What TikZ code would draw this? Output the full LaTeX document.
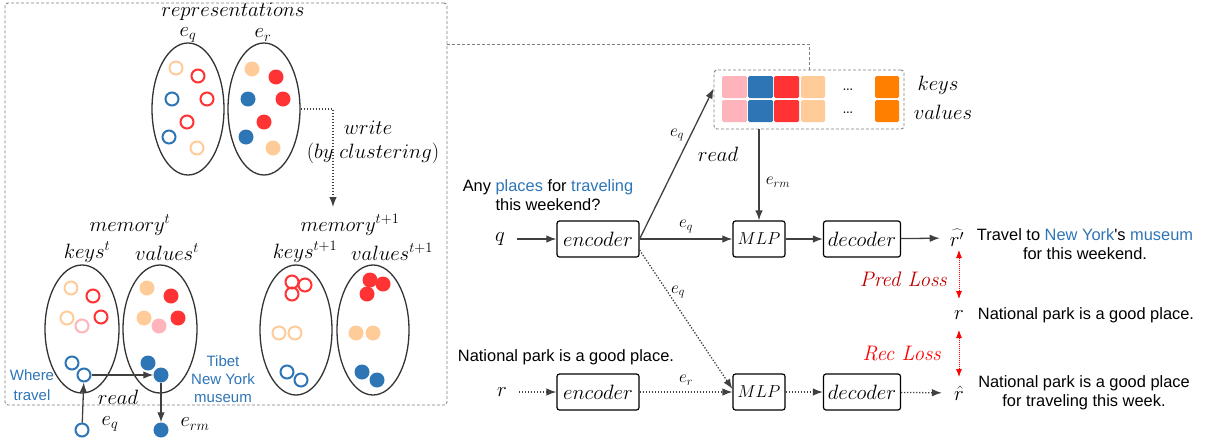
\documentclass[tikz,border=0pt]{standalone}
\usepackage{fontspec}
\newfontfamily\arialfont{Liberation Sans}
\usetikzlibrary{arrows.meta, shapes.geometric, positioning, calc}

\definecolor{myblue}{HTML}{2E75B6}
\definecolor{myred}{HTML}{FF3333}
\definecolor{mypeach}{HTML}{FFCC99}
\definecolor{mypink}{HTML}{FFB3BA}
\definecolor{myorange}{HTML}{FF8000}
\definecolor{lossred}{HTML}{C00000}
\definecolor{arrgray}{HTML}{404040}

\tikzset{
  box/.style={draw=black, line width=1.2pt, rounded corners=2.5pt, minimum height=36pt, inner sep=0pt, font=\fontsize{20}{24}\selectfont},
  lbl/.style={inner sep=0pt, font=\fontsize{20}{24}\selectfont},
  small/.style={inner sep=0pt, font=\fontsize{17}{20}\selectfont},
  txt/.style={inner sep=0pt, align=center, font=\arialfont\fontsize{16.4}{19}\selectfont},
  bluetxt/.style={inner sep=0pt, align=center, text=myblue, font=\arialfont\fontsize{15}{18}\selectfont},
  arr/.style={draw=arrgray, line width=1.3pt, -{Latex[length=10pt,width=7.5pt]}},
  dotarr/.style={arr, dash pattern=on 1.3pt off 1.7pt},
  lossarr/.style={draw=red, line width=0.8pt, dash pattern=on 0.8pt off 1.2pt, {Latex[length=8pt,width=6pt]}-{Latex[length=8pt,width=6pt]}},
  grp/.style={draw=gray, line width=0.9pt, dash pattern=on 3pt off 2pt},
  set/.style={ellipse, draw=black!80, line width=1.3pt, inner sep=0pt},
  ring/.style={line width=2pt},
  dot/.style={circle, inner sep=0pt},
  loss/.style={inner sep=0pt, anchor=east, font=\fontsize{21}{24}\selectfont\itshape}
}

\begin{document}
\begin{tikzpicture}[x=1pt,y=-1pt]
  \useasboundingbox (0,0) rectangle (1210,445);

  % memory module, left part
  \node[grp, rounded corners=3pt, minimum width=442pt, minimum height=402pt] (membox) at (226,204) {};

  \node[lbl] (reprs) at (233,12) {$representations$};
  \node[lbl] (eqlbl) at (188,35) {$e_q$};
  \node[lbl] (erlbl) at (263,35) {$e_r$};
  \node[set, minimum width=72pt, minimum height=132pt] (eqset) at (188,109) {};
  \node[set, minimum width=72pt, minimum height=132pt] (erset) at (264,109) {};
  % query representations (open)
  \draw[mypeach, ring] (176,68) circle (6.5);
  \draw[myred, ring] (198,76) circle (6.5);
  \draw[myblue, ring] (172,99) circle (6.5);
  \draw[myred, ring] (207,99) circle (6.5);
  \draw[myred, ring] (187,122) circle (6.5);
  \draw[myblue, ring] (169,137) circle (6.5);
  \draw[mypeach, ring] (197,148) circle (6.5);
  % response representations (filled)
  \fill[mypeach] (252,69) circle (7.5);
  \fill[myred] (276,77) circle (7.5);
  \fill[myblue] (248,99) circle (7.5);
  \fill[myred] (283,99) circle (7.5);
  \fill[myred] (264,122) circle (7.5);
  \fill[myblue] (246,137) circle (7.5);
  \fill[mypeach] (273,148) circle (7.5);

  % write step
  \coordinate (wend) at (333,207);
  \draw[dotarr] (erset.east) -| (wend);
  \node[lbl] (wrlbl) at (368,128) {$write$};
  \node[lbl] (bylbl) at (373,153) {$(by\ clustering)$};

  % memory at t
  \node[lbl] (memt) at (130,225) {$memory^{t}$};
  \node[lbl] (keyt) at (87,252) {$keys^{t}$};
  \node[lbl] (valt) at (167,252) {$values^{t}$};
  \node[set, minimum width=74pt, minimum height=128pt] (keyset) at (82,329) {};
  \node[set, minimum width=74pt, minimum height=128pt] (valset) at (160,329) {};
  \draw[mypeach, ring] (71,288) circle (6.5);
  \draw[myred, ring] (93,296) circle (6.5);
  \draw[mypeach, ring] (67,318) circle (6.5);
  \draw[mypink, ring] (82,326) circle (6.5);
  \draw[myred, ring] (101,317) circle (6.5);
  \draw[myblue, ring] (72,363) circle (6.5);
  \node[dot, draw=myblue, ring, minimum size=13pt] (kq) at (84,375) {};
  \fill[mypeach] (147,288) circle (7.5);
  \fill[myred] (171,296) circle (7.5);
  \fill[mypeach] (144,318) circle (7.5);
  \fill[mypink] (159,326) circle (7.5);
  \fill[myred] (178,318) circle (7.5);
  \fill[myblue] (148,363) circle (7.5);
  \node[dot, fill=myblue, minimum size=15pt] (vq) at (161,375) {};

  % read step
  \node[dot, draw=myblue, ring, minimum size=13pt] (eqd) at (82,430) {};
  \node[dot, fill=myblue, minimum size=15pt] (ermd) at (161,430) {};
  \draw[arr] (kq) -- (vq);
  \draw[arr] (eqd) -- (kq);
  \draw[arr] (vq) -- (ermd);
  \node[lbl] (rdlbl) at (118,397) {$read$};
  \node[lbl] (eqlbl2) at (110,424) {$e_q$};
  \node[lbl] (ermlbl) at (195,424) {$e_{rm}$};
  \node[bluetxt] (where) at (32,385) {Where\\[2pt]travel};
  \node[bluetxt] (tibet) at (223,379) {Tibet\\New York\\museum};

  % memory at t+1
  \node[lbl] (memt1) at (350,225) {$memory^{t+1}$};
  \node[lbl] (keyt1) at (305,252) {$keys^{t+1}$};
  \node[lbl] (valt1) at (392,252) {$values^{t+1}$};
  \node[set, minimum width=72pt, minimum height=130pt] (keyset1) at (296,330) {};
  \node[set, minimum width=72pt, minimum height=130pt] (valset1) at (373,330) {};
  \draw[myred, ring] (292,282) circle (6.5);
  \draw[myred, ring] (305,285) circle (6.5);
  \draw[myred, ring] (292,294) circle (6.5);
  \draw[mypeach, ring] (279,333) circle (6.5);
  \draw[mypeach, ring] (295,333) circle (6.5);
  \draw[myblue, ring] (287,372) circle (6.5);
  \draw[myblue, ring] (301,380) circle (6.5);
  \fill[myred] (370,280) circle (7.5);
  \fill[myred] (383,284) circle (7.5);
  \fill[myred] (367,294) circle (7.5);
  \fill[mypeach] (356,333) circle (7.5);
  \fill[mypeach] (373,333) circle (7.5);
  \fill[myblue] (362,372) circle (7.5);
  \fill[myblue] (377,380) circle (7.5);

  % key-value store
  \node[grp, rounded corners=3pt, minimum width=190pt, minimum height=59pt] (kv) at (809,99.5) {};
  \coordinate (tap) at (447,44);
  \draw[grp] (tap) -| (kv.north);
  \fill[mypink, rounded corners=1.5pt] (722,76) rectangle (747,98);
  \fill[myblue, rounded corners=1.5pt] (748,76) rectangle (773,98);
  \fill[myred, rounded corners=1.5pt] (774,76) rectangle (799,98);
  \fill[mypeach, rounded corners=1.5pt] (801,76) rectangle (825,98);
  \fill[myorange, rounded corners=1.5pt] (875,76) rectangle (899,98);
  \fill[mypink, rounded corners=1.5pt] (722,100) rectangle (747,122);
  \fill[myblue, rounded corners=1.5pt] (748,100) rectangle (773,122);
  \fill[myred, rounded corners=1.5pt] (774,100) rectangle (799,122);
  \fill[mypeach, rounded corners=1.5pt] (801,100) rectangle (825,122);
  \fill[myorange, rounded corners=1.5pt] (875,100) rectangle (899,122);
  \node[lbl] (dots1) at (848,90) {\ldots};
  \node[lbl] (dots2) at (848,113) {\ldots};
  \node[lbl] (keys) at (938,85) {$keys$};
  \node[lbl] (vals) at (943,112) {$values$};

  % query path
  \node[txt] (qtext) at (548,195) {Any \textcolor{myblue}{places} for \textcolor{myblue}{traveling}\\this weekend?};
  \node[lbl] (q) at (500,239) {$q$};
  \node[box, minimum width=82pt] (enc1) at (598,239) {$encoder$};
  \node[box, minimum width=52pt, font=\fontsize{17}{20}\selectfont] (mlp1) at (759,239) {$MLP$};
  \node[box, minimum width=77pt] (dec1) at (862,239) {$decoder$};
  \node[lbl] (rp) at (957,238) {$\widehat{r'}$};
  \draw[arr, shorten <=12pt] (q) -- (enc1);
  \draw[arr] (enc1) -- (mlp1) node[small, midway, above=6pt] {$e_q$};
  \draw[arr] (enc1.east) -- ([yshift=11pt]kv.west);
  \node[small] (eqlbl3) at (677,135) {$e_q$};
  \node[lbl] (rdlbl2) at (718,154) {$read$};
  \draw[arr] (mlp1 |- kv.south) -- (mlp1);
  \node[small] (ermlbl2) at (778,182) {$e_{rm}$};
  \draw[arr] (mlp1) -- (dec1);
  \draw[arr, shorten >=10pt] (dec1) -- (rp);
  \node[txt] (rptext) at (1085,244) {Travel to \textcolor{myblue}{New York}'s \textcolor{myblue}{museum}\\for this weekend.};

  % response path
  \node[txt] (rtext) at (566,357) {National park is a good place.};
  \node[lbl] (r) at (502,392) {$r$};
  \node[box, minimum width=82pt] (enc2) at (598,392) {$encoder$};
  \node[box, minimum width=52pt, font=\fontsize{17}{20}\selectfont] (mlp2) at (759,392) {$MLP$};
  \node[box, minimum width=77pt] (dec2) at (862,392) {$decoder$};
  \node[lbl] (rh) at (959,393) {$\hat{r}$};
  \draw[dotarr, shorten <=12pt] (r) -- (enc2);
  \draw[dotarr] (enc2) -- (mlp2) node[small, midway, above=6pt] {$e_r$};
  \draw[dotarr] (mlp2) -- (dec2);
  \draw[dotarr, shorten >=12pt] (dec2) -- (rh);
  \draw[dotarr] ([yshift=-11pt]enc1.east) -- ([yshift=3pt]mlp2.west);
  \node[small] (eqlbl4) at (678,292) {$e_q$};
  \node[txt] (rhtext) at (1084,393) {National park is a good place\\for traveling this week.};

  % losses
  \node[lbl] (rmid) at (959,315) {$r$};
  \node[txt] (rmtext) at (1086,315) {National park is a good place.};
  \draw[lossarr] ([yshift=-12pt]rmid.center |- rp.center) -- ([yshift=16pt]rmid.center);
  \draw[lossarr] ([yshift=-15pt]rmid.center) -- ([yshift=16pt]rh.center);
  \node[loss, text=lossred] (pred) at (947,279) {Pred Loss};
  \node[loss, text=red] (rec) at (941,354) {Rec Loss};
\end{tikzpicture}
\end{document}
